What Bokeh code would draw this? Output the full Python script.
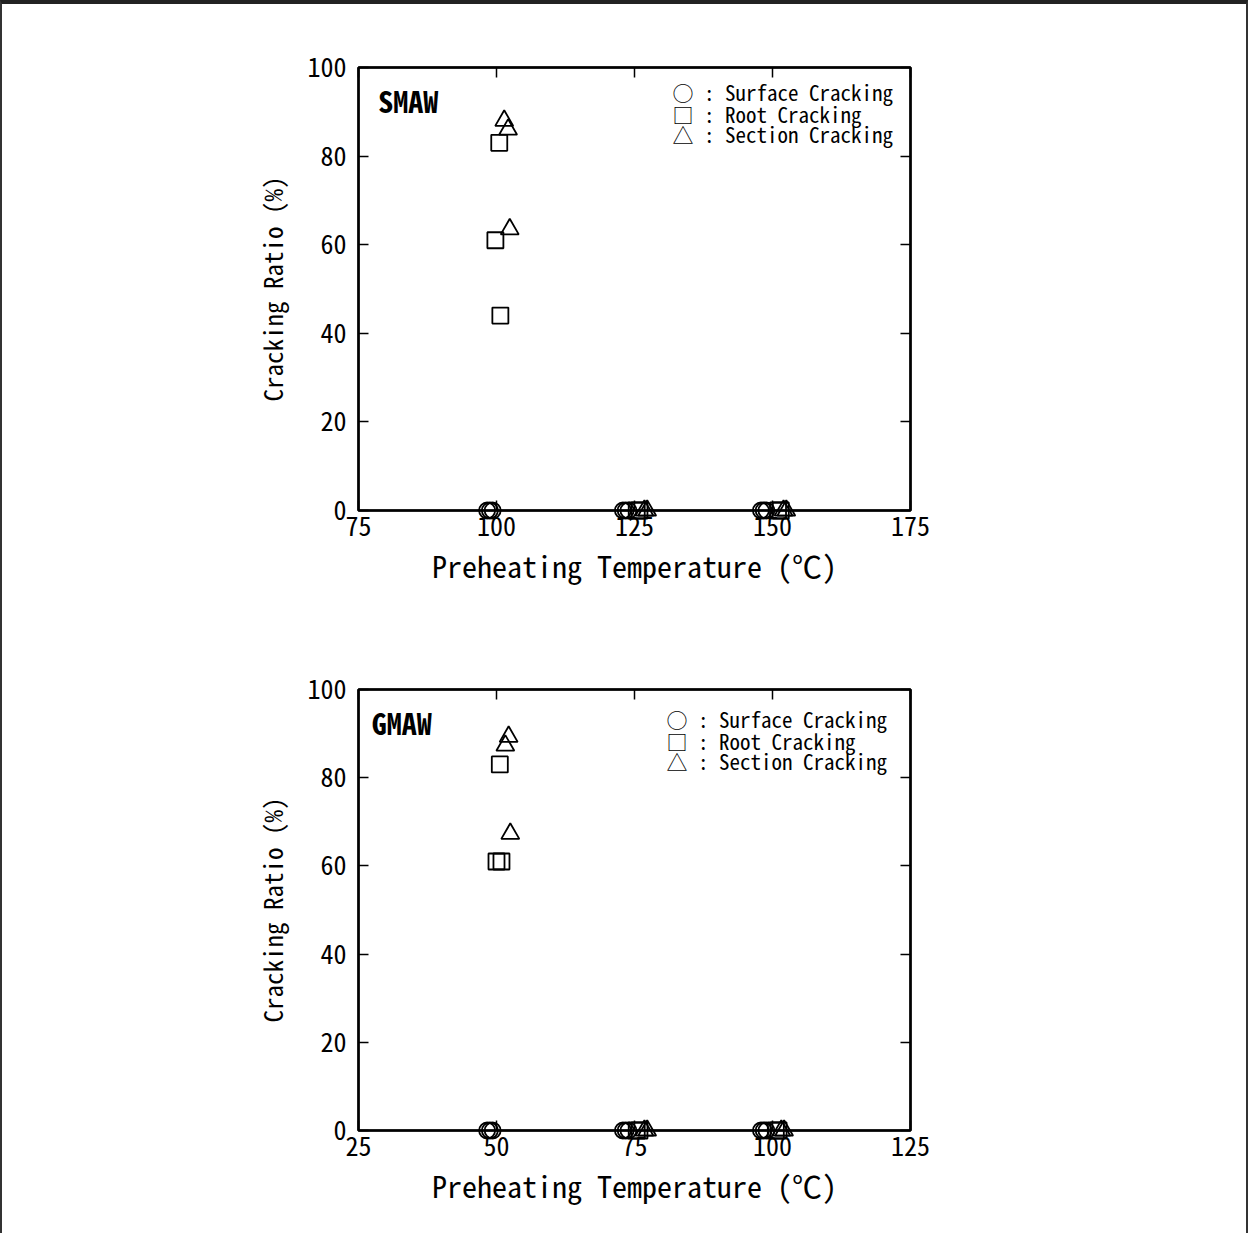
from bokeh.plotting import figure
from bokeh.layouts import column
from bokeh.models import LinearAxis, FixedTicker, Label, Range1d
from bokeh.embed import file_html
from bokeh.resources import INLINE

# ---------------- data ----------------
smaw_x_ticks = [75, 100, 125, 150, 175]
gmaw_x_ticks = [25, 50, 75, 100, 125]
y_ticks = [0, 20, 40, 60, 80, 100]

smaw_surface_temp = [98.3, 98.8, 99.3, 122.9, 123.4, 123.9, 147.9, 148.4, 148.9]
smaw_surface_ratio = [0, 0, 0, 0, 0, 0, 0, 0, 0]
smaw_root_temp = [100.5, 99.8, 100.7, 125.4, 125.9, 151.0, 151.5]
smaw_root_ratio = [83, 61, 44, 0, 0, 0, 0]
smaw_section_temp = [101.4, 102.1, 102.4, 126.8, 127.3, 152.0, 152.5]
smaw_section_ratio = [88, 86, 63.5, 0, 0, 0, 0]

gmaw_surface_temp = [48.3, 48.8, 49.3, 72.9, 73.4, 73.9, 97.9, 98.4, 98.9]
gmaw_surface_ratio = [0, 0, 0, 0, 0, 0, 0, 0, 0]
gmaw_root_temp = [50.6, 50.0, 50.9, 75.4, 75.9, 100.6, 101.1]
gmaw_root_ratio = [83, 61, 61, 0, 0, 0, 0]
gmaw_section_temp = [52.2, 51.6, 52.5, 76.8, 77.3, 101.6, 102.1]
gmaw_section_ratio = [89.3, 87.3, 67.3, 0, 0, 0, 0]

legend_texts = ["○ : Surface Cracking", "□ : Root Cracking", "△ : Section Cracking"]
x_label = "Preheating Temperature (℃)"
y_label = "Cracking Ratio (%)"

FONT = "'Noto Sans Mono CJK JP', 'DejaVu Sans Mono', monospace"


def make_panel(title, xticks, surf, root, sect, height, top, frame_h,
               legend_x, legend_y, title_x):
    bottom = height - top - frame_h
    p = figure(width=1244, height=height, output_backend="svg", toolbar_location=None,
               x_range=Range1d(xticks[0], xticks[-1]), y_range=Range1d(0, 100),
               min_border_left=356, min_border_right=336,
               min_border_top=top, min_border_bottom=bottom)
    p.grid.visible = False
    p.outline_line_color = "black"
    p.outline_line_width = 2.5
    p.background_fill_color = "white"
    p.border_fill_color = "white"

    for ax in (p.xaxis[0], p.yaxis[0]):
        ax.major_tick_in = 10
        ax.major_tick_out = 0
        ax.minor_tick_line_color = None
        ax.major_tick_line_width = 1.5
        ax.axis_line_width = 2
        ax.major_label_text_font = FONT
        ax.major_label_text_font_size = "26px"
        ax.major_label_text_color = "black"
        ax.axis_label_text_font = FONT
        ax.axis_label_text_font_style = "normal"
        ax.axis_label_text_color = "black"
    p.xaxis[0].ticker = FixedTicker(ticks=xticks)
    p.yaxis[0].ticker = FixedTicker(ticks=y_ticks)
    p.xaxis[0].axis_label = x_label
    p.xaxis[0].axis_label_text_font_size = "30px"
    p.xaxis[0].major_label_standoff = 6
    p.xaxis[0].axis_label_standoff = 4
    p.yaxis[0].axis_label = y_label
    p.yaxis[0].axis_label_text_font_size = "25px"
    p.yaxis[0].major_label_standoff = 12
    p.yaxis[0].axis_label_standoff = 14

    # mirrored axes (ticks only)
    ra = LinearAxis(ticker=FixedTicker(ticks=y_ticks), major_tick_in=10, major_tick_out=0,
                    minor_tick_line_color=None, major_label_text_color=None,
                    major_tick_line_width=1.5, axis_line_width=2)
    ta = LinearAxis(ticker=FixedTicker(ticks=xticks), major_tick_in=10, major_tick_out=0,
                    minor_tick_line_color=None, major_label_text_color=None,
                    major_tick_line_width=1.5, axis_line_width=2)
    p.add_layout(ra, "right")
    p.add_layout(ta, "above")

    # level="overlay" so markers sitting on the axis are not clipped by the frame
    p.scatter(surf[0], surf[1], marker="circle", size=16, fill_color=None,
              line_color="black", line_width=1.8, level="overlay")
    p.scatter(root[0], root[1], marker="square", size=16, fill_color=None,
              line_color="black", line_width=1.8, level="overlay")
    p.scatter(sect[0], sect[1], marker="triangle", size=18, fill_color=None,
              line_color="black", line_width=1.8, level="overlay")

    for txt, ly in zip(legend_texts, legend_y):
        p.add_layout(Label(x=legend_x, y=ly, text=txt, text_font=FONT,
                           text_font_size="21px", text_color="black",
                           text_baseline="middle", text_align="left"))

    p.add_layout(Label(x=title_x, y=97.6, text=title, text_font=FONT,
                       text_font_size="30px", text_font_style="bold", text_color="black",
                       text_baseline="top", text_align="left"))
    return p


p1 = make_panel("SMAW", smaw_x_ticks,
                (smaw_surface_temp, smaw_surface_ratio),
                (smaw_root_temp, smaw_root_ratio),
                (smaw_section_temp, smaw_section_ratio),
                height=616, top=63, frame_h=443,
                legend_x=131.9, legend_y=[94.4, 89.6, 84.9], title_x=78.6)
p2 = make_panel("GMAW", gmaw_x_ticks,
                (gmaw_surface_temp, gmaw_surface_ratio),
                (gmaw_root_temp, gmaw_root_ratio),
                (gmaw_section_temp, gmaw_section_ratio),
                height=613, top=69, frame_h=441,
                legend_x=80.8, legend_y=[93.4, 88.4, 83.7], title_x=27.4)

layout = column(p1, p2, styles={"border-top": "4px solid #222",
                                "border-left": "2px solid #333",
                                "border-right": "2px solid #333"})

open("out.html", "w").write(file_html(layout, INLINE))
